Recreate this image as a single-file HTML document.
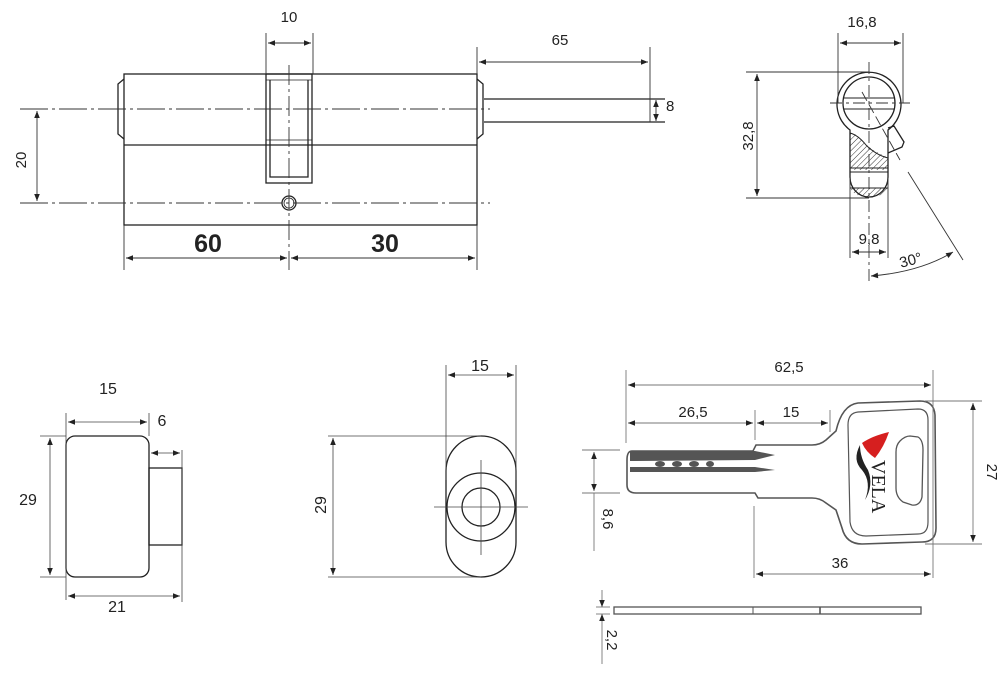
<!DOCTYPE html>
<html><head><meta charset="utf-8"><style>
html,body{margin:0;padding:0;background:#fff;}
svg{display:block;font-family:"Liberation Sans","DejaVu Sans",sans-serif;}
</style></head><body>
<svg width="1000" height="676" viewBox="0 0 1000 676" xmlns="http://www.w3.org/2000/svg">
<defs>
<marker id="a" viewBox="0 0 10 10" refX="10" refY="5" markerWidth="10" markerHeight="7" orient="auto-start-reverse" markerUnits="userSpaceOnUse"><path d="M0,1 L10,5 L0,9 z" fill="#222"/></marker>
<pattern id="h" width="4" height="4" patternUnits="userSpaceOnUse" patternTransform="rotate(45)"><line x1="0" y1="0" x2="0" y2="4" stroke="#333" stroke-width="1"/></pattern>
</defs>
<g fill="none" stroke="#222" stroke-width="1.3">
<!-- cylinder -->
<rect x="124" y="74" width="353" height="151"/>
<line x1="124" y1="145" x2="477" y2="145"/>
<path d="M124,79 L118,84 L118,134 L124,139"/>
<path d="M477,79 L483,84 L483,134 L477,139"/>
<rect x="266" y="74" width="46" height="109"/>
<polyline points="270,80 270,177 308,177 308,80"/>
<line x1="266" y1="80" x2="312" y2="80" stroke-width="0.8"/>
<line x1="266" y1="140" x2="312" y2="140" stroke-width="0.8"/>
<circle cx="289" cy="203" r="7"/>
<circle cx="289" cy="203" r="5" stroke-width="0.8"/>
<path d="M484,99 L665,99 M484,122 L665,122"/>
</g>
<g stroke="#333" stroke-width="0.9" fill="none">
<line x1="20" y1="109" x2="490" y2="109" stroke-dasharray="28,4,3,4"/>
<line x1="20" y1="203" x2="490" y2="203" stroke-dasharray="28,4,3,4"/>
<line x1="289" y1="65" x2="289" y2="270" stroke-dasharray="20,4,3,4"/>
<line x1="266" y1="33" x2="266" y2="74"/><line x1="313" y1="33" x2="313" y2="74"/>
<line x1="268" y1="43" x2="311" y2="43" marker-start="url(#a)" marker-end="url(#a)"/>
<line x1="477" y1="47" x2="477" y2="74"/><line x1="650" y1="47" x2="650" y2="122"/>
<line x1="479" y1="62" x2="648" y2="62" marker-start="url(#a)" marker-end="url(#a)"/>
<line x1="656" y1="100" x2="656" y2="121" marker-start="url(#a)" marker-end="url(#a)"/>
<line x1="37" y1="111" x2="37" y2="201" marker-start="url(#a)" marker-end="url(#a)"/>
<line x1="124" y1="225" x2="124" y2="270"/><line x1="477" y1="225" x2="477" y2="270"/>
<line x1="126" y1="258" x2="287" y2="258" marker-start="url(#a)" marker-end="url(#a)"/>
<line x1="291" y1="258" x2="475" y2="258" marker-start="url(#a)" marker-end="url(#a)"/>
</g>
<g fill="#222" font-size="15">
<text x="289" y="22" text-anchor="middle">10</text>
<text x="560" y="45" text-anchor="middle">65</text>
<text x="666" y="111">8</text>
<text x="26" y="160" text-anchor="middle" transform="rotate(-90 26 160)">20</text>
<text x="208" y="252" text-anchor="middle" font-size="25" font-weight="bold">60</text>
<text x="385" y="252" text-anchor="middle" font-size="25" font-weight="bold">30</text>
</g>

<!-- profile -->
<g fill="none" stroke="#222" stroke-width="1.3">
<path d="M888,157 Q870,150 862,140 Q856,133 850,133 L850,170 L888,170 Z" fill="url(#h)" stroke="none"/>
<path d="M850,188 L888,188 Q884,197 869,197 Q854,197 850,188 Z" fill="url(#h)" stroke="none"/>
<path d="M850,130 A32,32 0 1 1 888,130 L888,177 A19,20 0 0 1 850,177 Z"/>
<circle cx="869" cy="103" r="26"/>
<path d="M844,98 L894,98 M844,109 L894,109" stroke-width="1"/>
<path d="M850,133 Q858,135 866,145 Q876,155 888,158" stroke-width="1"/>
<path d="M850,168 L888,168 M850,172 L888,172" stroke-width="0.9"/>
<line x1="850" y1="188" x2="888" y2="188" stroke-width="0.9"/>
<path d="M888,128 L894,126 L904,142 L902,147 L888,153"/>
</g>
<g stroke="#333" stroke-width="0.9" fill="none">
<line x1="869" y1="62" x2="869" y2="285" stroke-dasharray="12,4,3,4"/>
<line x1="830" y1="103" x2="910" y2="103" stroke-dasharray="12,4,3,4"/>
<line x1="862" y1="92" x2="900" y2="160" stroke-dasharray="10,4"/>
<line x1="908" y1="172" x2="963" y2="260"/>
<line x1="838" y1="33" x2="838" y2="103"/><line x1="903" y1="33" x2="903" y2="103"/>
<line x1="840" y1="43" x2="901" y2="43" marker-start="url(#a)" marker-end="url(#a)"/>
<line x1="746" y1="72" x2="869" y2="72"/><line x1="746" y1="198" x2="869" y2="198"/>
<line x1="757" y1="74" x2="757" y2="196" marker-start="url(#a)" marker-end="url(#a)"/>
<line x1="850" y1="178" x2="850" y2="258"/><line x1="888" y1="178" x2="888" y2="258"/>
<line x1="852" y1="252" x2="886" y2="252" marker-start="url(#a)" marker-end="url(#a)"/>
<path d="M871,276 Q920,272 953,252" marker-start="url(#a)" marker-end="url(#a)"/>
</g>
<g fill="#222" font-size="15">
<text x="862" y="27" text-anchor="middle">16,8</text>
<text x="753" y="136" text-anchor="middle" transform="rotate(-90 753 136)">32,8</text>
<text x="869" y="244" text-anchor="middle">9,8</text>
<text x="912" y="265" text-anchor="middle" transform="rotate(-15 912 265)">30°</text>
</g>

<!-- thumb turn -->
<g fill="none" stroke="#222" stroke-width="1.3">
<rect x="66" y="436" width="83" height="141" rx="9"/>
<rect x="149" y="468" width="33" height="77"/>
<path d="M446,471 A35,35 0 0 1 516,471 L516,542 A35,35 0 0 1 446,542 Z"/>
<circle cx="481" cy="507" r="34"/>
<circle cx="481" cy="507" r="19"/>
</g>
<g stroke="#444" stroke-width="0.8" fill="none">
<line x1="434" y1="507" x2="528" y2="507"/><line x1="481" y1="460" x2="481" y2="555"/>
<line x1="66" y1="413" x2="66" y2="600"/><line x1="149" y1="413" x2="149" y2="436"/>
<line x1="68" y1="422" x2="147" y2="422" marker-start="url(#a)" marker-end="url(#a)"/>
<line x1="182" y1="450" x2="182" y2="602"/>
<line x1="151" y1="453" x2="180" y2="453" marker-start="url(#a)" marker-end="url(#a)"/>
<line x1="40" y1="436" x2="66" y2="436"/><line x1="40" y1="577" x2="66" y2="577"/>
<line x1="50" y1="438" x2="50" y2="575" marker-start="url(#a)" marker-end="url(#a)"/>
<line x1="68" y1="596" x2="180" y2="596" marker-start="url(#a)" marker-end="url(#a)"/>
<line x1="446" y1="365" x2="446" y2="480"/><line x1="516" y1="365" x2="516" y2="480"/>
<line x1="448" y1="375" x2="514" y2="375" marker-start="url(#a)" marker-end="url(#a)"/>
<line x1="328" y1="436" x2="481" y2="436"/><line x1="328" y1="577" x2="481" y2="577"/>
<line x1="333" y1="438" x2="333" y2="575" marker-start="url(#a)" marker-end="url(#a)"/>
</g>
<g fill="#222" font-size="16">
<text x="108" y="394" text-anchor="middle">15</text>
<text x="162" y="426" text-anchor="middle">6</text>
<text x="28" y="505" text-anchor="middle">29</text>
<text x="117" y="612" text-anchor="middle">21</text>
<text x="480" y="371" text-anchor="middle">15</text>
<text x="326" y="505" text-anchor="middle" transform="rotate(-90 326 505)">29</text>
</g>

<!-- key -->
<g fill="none" stroke="#555" stroke-width="1.6">
<path d="M632,451 L753,451 L756,445 L812,445 Q820,445 826,440 L836,431 Q842,405 858,403 L920,401 Q934,401 935,415 L936,528 Q936,542 922,542 L862,544 Q846,544 842,528 L836,510 L826,503 Q820,498 812,498 L758,498 L755,493 L636,493 Q627,493 627,485 L627,460 Q627,451 632,451 Z"/>
<path d="M858,412 L918,409 Q928,409 928,420 L928,522 Q928,534 918,534 L866,536 Q852,536 850,522 L848,425 Q848,413 858,412 Z" stroke-width="1.2"/>
<path d="M900,441 Q905,436 910,436 L918,437 Q923,440 923,450 L922,497 Q920,506 912,505 L903,502 Q896,497 896,488 L896,452 Q896,445 900,441 Z" stroke-width="1.3"/>
</g>
<path d="M630,451 L755,451 L775,455 L755,460 L630,461 Z M630,467 L755,467 L775,470 L755,472 L630,472 Z" fill="#555"/>
<g fill="#555"><ellipse cx="660" cy="464" rx="5" ry="3"/><ellipse cx="677" cy="464" rx="5" ry="3"/><ellipse cx="694" cy="464" rx="5" ry="3"/><ellipse cx="710" cy="464" rx="4" ry="3"/></g>
<path d="M862,443 Q872,436 889,432 Q884,447 875,458 Q866,452 862,443 Z" fill="#d61f1f"/>
<path d="M860,445 Q852,460 862,470 Q872,482 865,500 Q874,485 868,470 Q860,458 860,445 Z" fill="#222"/>
<text x="872" y="460" font-family="Liberation Serif,serif" font-size="20" fill="#222" transform="rotate(90 872 460)">VELA</text>
<rect x="614" y="607" width="307" height="7" fill="none" stroke="#555" stroke-width="1.3"/>
<line x1="753" y1="607" x2="753" y2="614" stroke="#555"/><line x1="820" y1="607" x2="820" y2="614" stroke="#555" stroke-width="1.6"/>
<g stroke="#777" stroke-width="0.9" fill="none">
<line x1="626" y1="370" x2="626" y2="443"/><line x1="933" y1="370" x2="933" y2="578"/>
<line x1="628" y1="385" x2="931" y2="385" marker-start="url(#a)" marker-end="url(#a)"/>
<line x1="755" y1="410" x2="755" y2="440"/><line x1="830" y1="410" x2="830" y2="432"/>
<line x1="628" y1="423" x2="753" y2="423" marker-start="url(#a)" marker-end="url(#a)"/>
<line x1="757" y1="423" x2="828" y2="423" marker-start="url(#a)" marker-end="url(#a)"/>
<line x1="582" y1="450" x2="620" y2="450"/><line x1="582" y1="493" x2="620" y2="493"/>
<line x1="594" y1="452" x2="594" y2="491" marker-start="url(#a)" marker-end="url(#a)"/>
<line x1="594" y1="493" x2="594" y2="551"/>
<line x1="925" y1="401" x2="982" y2="401"/><line x1="925" y1="544" x2="982" y2="544"/>
<line x1="973" y1="403" x2="973" y2="542" marker-start="url(#a)" marker-end="url(#a)"/>
<line x1="754" y1="506" x2="754" y2="578"/>
<line x1="756" y1="574" x2="931" y2="574" marker-start="url(#a)" marker-end="url(#a)"/>
<line x1="596" y1="607" x2="610" y2="607"/><line x1="596" y1="614" x2="610" y2="614"/>
<line x1="602" y1="590" x2="602" y2="607" marker-end="url(#a)"/>
<line x1="602" y1="664" x2="602" y2="614" marker-end="url(#a)"/>
</g>
<g fill="#222" font-size="15">
<text x="789" y="372" text-anchor="middle">62,5</text>
<text x="693" y="417" text-anchor="middle">26,5</text>
<text x="791" y="417" text-anchor="middle">15</text>
<text x="603" y="519" text-anchor="middle" transform="rotate(90 603 519)">8,6</text>
<text x="987" y="472" text-anchor="middle" transform="rotate(90 987 472)">27</text>
<text x="840" y="568" text-anchor="middle">36</text>
<text x="607" y="640" text-anchor="middle" transform="rotate(90 607 640)">2,2</text>
</g>
</svg>
</body></html>
